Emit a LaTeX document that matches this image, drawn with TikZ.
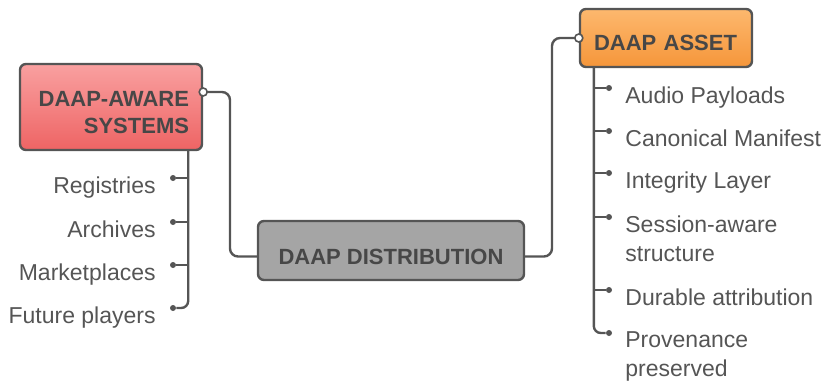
\documentclass[tikz,border=0pt]{standalone}
\usepackage{fontspec}
\setmainfont{Liberation Sans}
\usepackage{xcolor}
\usetikzlibrary{calc}

\definecolor{ink}{HTML}{555555}
\definecolor{boxink}{HTML}{474747}
\definecolor{redtop}{HTML}{F9A0A0}
\definecolor{redbot}{HTML}{EE6464}
\definecolor{orangetop}{HTML}{FDB86E}
\definecolor{orangebot}{HTML}{F5963A}
\definecolor{distgray}{HTML}{A5A5A5}

\begin{document}
\begin{tikzpicture}[x=0.5pt,y=-0.5pt]
        \tikzset{box/.style = {draw=ink, line width=1.2pt, rounded corners=3pt, text=boxink, font=\bfseries\fontsize{11}{13.5}\selectfont}}
        \tikzset{link/.style = {draw=ink, line width=1.2pt, rounded corners=4pt}}
        \tikzset{stem/.style = {draw=ink, line width=1.2pt, rounded corners=3.5pt}}
        \tikzset{port/.style = {circle, draw=ink, fill=white, line width=0.8pt, inner sep=0pt, minimum size=4pt}}
        \tikzset{dot/.style = {circle, fill=ink, inner sep=0pt, minimum size=3pt}}
        \tikzset{item/.style = {text=ink, inner sep=0pt, font=\fontsize{11.5}{14.5}\selectfont}}

        \useasboundingbox (0,0) rectangle (827,381);

        % boxes
        \node[box, top color=redtop, bottom color=redbot, minimum width=91pt, minimum height=43pt, inner xsep=6.5pt, text width=78pt, align=right] (sys) at (111,107) {\rule{0pt}{13.5pt}DAAP-AWARE\\SYSTEMS};
        \node[box, fill=distgray, minimum width=133pt, minimum height=29.5pt, text height=13.5pt, text depth=0pt] (dist) at (391,250.5) {DAAP DISTRIBUTION};
        \node[box, top color=orangetop, bottom color=orangebot, minimum width=86pt, minimum height=29pt, inner xsep=7pt, text width=72pt, align=left, text height=12pt, text depth=0pt] (asset) at (666,38) {DAAP ASSET};

        % ports
        \coordinate (sysport) at ([yshift=7.5pt]sys.east);
        \coordinate (distin) at ([yshift=-3pt]dist.west);
        \coordinate (distout) at ([yshift=-3pt]dist.east);
        \coordinate (assetport) at (asset.west);
        \coordinate (leftbend) at ($(sysport)!.5!(distin)$);
        \coordinate (rightbend) at ($(distout)!.5!(assetport)$);
        \draw[link] (sysport) -| (leftbend) |- (distin);
        \draw[link] (distout) -| (rightbend) |- (assetport);
        \node[port] (sysring) at (sysport) {};
        \node[port] (assetring) at (assetport) {};

        % systems list
        \coordinate (sysstem) at ([xshift=-7.5pt]sys.south east);
        \foreach \name/\ty/\txt in {l1/178/Registries, l2/222/Archives, l3/265/Marketplaces, l4/308/Future players} {
            \node[item, anchor=north east] (\name) at (156,\ty-2) {\txt};
            \node[dot] (\name dot) at (173,\ty) {};
        }
        \draw[stem] (sysstem) |- (l4dot);
        \foreach \n in {1,2,3}
            \draw[stem] (sysstem |- l\n dot) -- (l\n dot);

        % asset list
        \coordinate (assetstem) at ([xshift=7.5pt]asset.south west);
        \foreach \name/\ty/\txt in {a1/88/Audio Payloads, a2/131/Canonical Manifest, a3/173/Integrity Layer, a4/217/Session-aware\\structure, a5/290/Durable attribution, a6/333/Provenance\\preserved} {
            \node[item, anchor=north west, align=left] (\name) at (625,\ty-2) {\txt};
            \node[dot] (\name dot) at (609,\ty) {};
        }
        \draw[stem] (assetstem) |- (a6dot);
        \foreach \n in {1,...,5}
            \draw[stem] (assetstem |- a\n dot) -- (a\n dot);

\end{tikzpicture}
\end{document}
